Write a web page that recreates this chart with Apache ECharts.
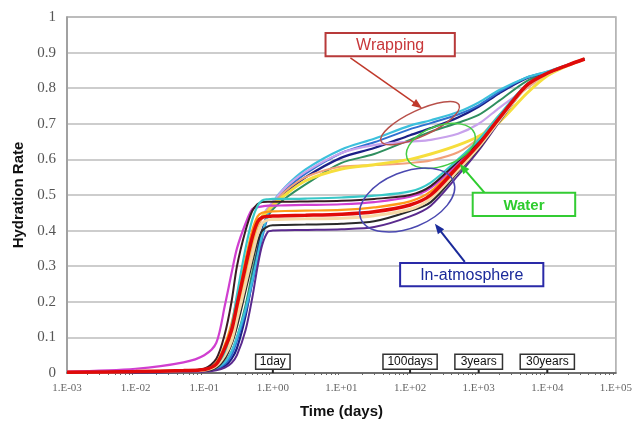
<!DOCTYPE html>
<html><head><meta charset="utf-8">
<script src="https://cdn.jsdelivr.net/npm/echarts@6/dist/echarts.min.js"></script>
<style>html,body{margin:0;padding:0;background:#fff}#c{width:635px;height:424px}</style>
</head><body><div id="c"></div>
<script>
// ---- data (time in days, hydration rate) ----
const days = [0.001, 0.01, 0.05, 0.1, 0.15, 0.2, 0.25, 0.3, 0.4, 0.5, 0.6, 0.7, 0.85, 1, 1.5, 3, 10, 30, 100, 200, 500, 1000, 2000, 5000, 10000, 20000, 35000];

// Wrapping
const wrapGreen = [0.002,0.003,0.005,0.007,0.012,0.03,0.06,0.1,0.19,0.28,0.35,0.40,0.44,0.46,0.49,0.53,0.59,0.615,0.655,0.678,0.703,0.725,0.765,0.82,0.843,0.866,0.882];
const wrapNavy  = [0.001,0.002,0.003,0.005,0.01,0.02,0.04,0.07,0.16,0.26,0.34,0.40,0.45,0.475,0.505,0.55,0.605,0.632,0.668,0.688,0.718,0.748,0.786,0.828,0.845,0.866,0.882];
const wrapBlue  = [0.002,0.003,0.005,0.007,0.012,0.025,0.05,0.09,0.17,0.25,0.32,0.38,0.44,0.47,0.512,0.56,0.618,0.648,0.685,0.702,0.726,0.752,0.79,0.83,0.846,0.866,0.882];
const wrapCyan  = [0.002,0.004,0.006,0.008,0.015,0.03,0.06,0.1,0.18,0.26,0.33,0.39,0.45,0.48,0.522,0.572,0.628,0.658,0.695,0.71,0.733,0.76,0.795,0.83,0.847,0.866,0.882];
// Water
const waterLilac  = [0.002,0.004,0.006,0.009,0.02,0.05,0.1,0.16,0.27,0.35,0.41,0.44,0.465,0.48,0.52,0.565,0.618,0.64,0.65,0.655,0.672,0.70,0.745,0.80,0.84,0.865,0.882];
const waterSalmon = [0.002,0.004,0.006,0.009,0.02,0.05,0.1,0.17,0.28,0.36,0.41,0.435,0.46,0.475,0.51,0.55,0.58,0.584,0.59,0.597,0.62,0.66,0.725,0.80,0.84,0.865,0.882];
const waterYellow = [0.002,0.004,0.006,0.008,0.02,0.06,0.11,0.18,0.29,0.37,0.42,0.44,0.455,0.47,0.5,0.54,0.573,0.585,0.60,0.615,0.64,0.665,0.705,0.785,0.835,0.864,0.882];
// In-atmosphere
const atmPurple  = [0.001,0.002,0.003,0.004,0.008,0.015,0.028,0.05,0.12,0.21,0.3,0.36,0.397,0.4,0.401,0.402,0.404,0.41,0.44,0.47,0.555,0.625,0.705,0.805,0.84,0.865,0.882];
const atmBlack   = [0.002,0.003,0.005,0.006,0.015,0.04,0.08,0.13,0.23,0.31,0.37,0.4,0.412,0.415,0.416,0.417,0.419,0.426,0.455,0.48,0.565,0.63,0.708,0.805,0.84,0.865,0.882];
const atmPeach   = [0.002,0.004,0.006,0.008,0.02,0.05,0.09,0.15,0.25,0.33,0.39,0.42,0.43,0.431,0.432,0.433,0.435,0.442,0.46,0.49,0.57,0.635,0.71,0.805,0.84,0.865,0.882];
const atmOrange  = [0.002,0.004,0.007,0.01,0.03,0.08,0.14,0.21,0.32,0.4,0.44,0.45,0.453,0.454,0.455,0.456,0.458,0.465,0.482,0.51,0.585,0.645,0.718,0.808,0.842,0.865,0.882];
const atmMagenta = [0.004,0.012,0.03,0.05,0.085,0.19,0.28,0.35,0.42,0.46,0.466,0.468,0.47,0.47,0.471,0.472,0.474,0.48,0.495,0.52,0.59,0.648,0.72,0.81,0.842,0.865,0.882];
const atmDark    = [0.002,0.004,0.007,0.012,0.04,0.11,0.2,0.3,0.4,0.455,0.475,0.48,0.481,0.481,0.481,0.482,0.484,0.489,0.5,0.525,0.595,0.65,0.722,0.81,0.842,0.865,0.882];
const atmCyan    = [0.002,0.004,0.007,0.01,0.025,0.06,0.13,0.22,0.35,0.43,0.47,0.485,0.488,0.489,0.489,0.49,0.493,0.498,0.51,0.535,0.60,0.655,0.725,0.81,0.842,0.865,0.882];
const atmRed     = [0.002,0.004,0.007,0.01,0.025,0.07,0.12,0.19,0.3,0.38,0.425,0.437,0.44,0.441,0.442,0.443,0.446,0.453,0.472,0.50,0.58,0.642,0.716,0.808,0.842,0.865,0.882];

const yTicks = [0, 0.1, 0.2, 0.3, 0.4, 0.5, 0.6, 0.7, 0.8, 0.9, 1];
const timeMarks = [['1day', 1], ['100days', 100], ['3years', 1000], ['30years', 10000]];

// ---- styles ----
const curves = [
  ['Wrapping green', wrapGreen, '#2f8f5f', 2],
  ['Wrapping navy', wrapNavy, '#1c1f86', 2.2],
  ['Wrapping blue', wrapBlue, '#2f6fd0', 2],
  ['Wrapping cyan', wrapCyan, '#3cc0dc', 2.2],
  ['Water lilac', waterLilac, '#c8a2ec', 2.2],
  ['Water salmon', waterSalmon, '#f2a07a', 2],
  ['Water yellow', waterYellow, '#f6de3c', 3],
  ['Atm purple', atmPurple, '#5a2a8e', 2],
  ['Atm black', atmBlack, '#2a2a2a', 2],
  ['Atm peach', atmPeach, '#f6d9a6', 3],
  ['Atm orange', atmOrange, '#ff9a1a', 2.2],
  ['Atm magenta', atmMagenta, '#d03fd0', 2.2],
  ['Atm dark', atmDark, '#3a1c22', 2],
  ['Atm cyan', atmCyan, '#38c8c8', 2.2],
  ['Atm red', atmRed, '#e00a0a', 3.5]
];

function fmtExp(v) {
  const e = Math.round(Math.log10(v));
  return '1.E' + (e < 0 ? '-' : '+') + String(Math.abs(e)).padStart(2, '0');
}

const chart = echarts.init(document.getElementById('c'));
chart.setOption({
  animation: false,
  backgroundColor: '#fff',
  grid: { left: 67, right: 15, top: 17, bottom: 51, show: true, borderColor: '#a8a8a8', borderWidth: 1.5 },
  xAxis: {
    type: 'log', logBase: 10, min: 0.001, max: 100000, splitNumber: 8,
    name: 'Time (days)', nameLocation: 'middle', nameGap: 31,
    nameTextStyle: { fontFamily: 'Liberation Sans', fontWeight: 'bold', fontSize: 15, color: '#111' },
    axisLine: { lineStyle: { color: '#555', width: 1.5 } },
    axisTick: { show: false },
    minorTick: { show: true, splitNumber: 9, length: 2, lineStyle: { color: '#666' } },
    splitLine: { show: false },
    axisLabel: { formatter: fmtExp, fontFamily: 'Liberation Serif', fontSize: 11, color: '#666', margin: 10 }
  },
  yAxis: {
    type: 'value', min: yTicks[0], max: yTicks[yTicks.length - 1], interval: 0.1,
    name: 'Hydration Rate', nameLocation: 'middle', nameGap: 36,
    nameTextStyle: { fontFamily: 'Liberation Sans', fontWeight: 'bold', fontSize: 15, color: '#111' },
    axisLine: { show: true, lineStyle: { color: '#999', width: 1.5 } },
    axisTick: { show: false },
    splitLine: { lineStyle: { color: '#bdbdbd', width: 1.5 } },
    axisLabel: { formatter: v => String(Math.round(v * 10) / 10), fontFamily: 'Liberation Serif', fontSize: 15, color: '#555', margin: 11 }
  },
  series: curves.map(([name, vals, color, w]) => ({
    name, type: 'line', showSymbol: false, smooth: 0.3,
    data: days.map((d, i) => [d, vals[i]]),
    lineStyle: { color, width: w }, itemStyle: { color }
  }))
});

// ---- annotations (placed in data space) ----
const P = (t, v) => chart.convertToPixel({ xAxisIndex: 0, yAxisIndex: 0 }, [t, v]);
const g = [];
function arrow(from, to, color, w) {
  const a = P(from[0], from[1]), b = P(to[0], to[1]);
  const ang = Math.atan2(b[1] - a[1], b[0] - a[0]);
  const L = 10, W = 4;
  const c = Math.cos(ang), s = Math.sin(ang);
  g.push({ type: 'line', shape: { x1: a[0], y1: a[1], x2: b[0] - L * 0.6 * c, y2: b[1] - L * 0.6 * s }, style: { stroke: color, lineWidth: w }, z: 100 });
  g.push({ type: 'polygon', shape: { points: [b, [b[0] - L * c + W * s, b[1] - L * s - W * c], [b[0] - L * c - W * s, b[1] - L * s + W * c]] }, style: { fill: color }, z: 100 });
}
function ellipse(center, rx, ry, deg, color) {
  const p = P(center[0], center[1]);
  g.push({ type: 'ellipse', x: p[0], y: p[1], rotation: deg * Math.PI / 180, shape: { cx: 0, cy: 0, rx, ry }, style: { fill: 'none', stroke: color, lineWidth: 1.5 }, z: 100 });
}
function box(tl, br, text, color, border, fontSize, weight, bw) {
  const a = P(tl[0], tl[1]), b = P(br[0], br[1]);
  g.push({ type: 'rect', shape: { x: a[0], y: a[1], width: b[0] - a[0], height: b[1] - a[1] }, style: { fill: '#fff', stroke: border, lineWidth: bw }, z: 101 });
  g.push({ type: 'text', x: (a[0] + b[0]) / 2, y: (a[1] + b[1]) / 2 + 1, style: { text, fill: color, font: weight + ' ' + fontSize + 'px "Liberation Sans", Arial, sans-serif', align: 'center', verticalAlign: 'middle', textAlign: 'center', textVerticalAlign: 'middle' }, z: 102 });
}

// Wrapping
ellipse([140, 0.702], 43, 13, 25, '#b8504a');
arrow([13.5, 0.885], [149, 0.744], '#c0392b', 1.5);
box([5.86, 0.955], [449, 0.890], 'Wrapping', '#c8373a', '#b83a3a', 16, '500', 2);
// Water
ellipse([281, 0.638], 36, 20, 20, '#44cc44');
arrow([1222, 0.506], [531, 0.587], '#2ecc2e', 2);
box([818, 0.506], [25500, 0.441], 'Water', '#2ecc2e', '#33cc33', 15, 'bold', 2);
// In-atmosphere
ellipse([90.6, 0.486], 50, 28, 22, '#4a48b0');
arrow([627, 0.312], [230, 0.419], '#1a2a9a', 2);
box([71.6, 0.309], [8750, 0.244], 'In-atmosphere', '#1a2a9a', '#2a2aa8', 16, '500', 2);

// Time marks above axis
timeMarks.forEach(([label, t]) => {
  const p = P(t, 0), top = P(t, 0.053)[1];
  const w = label.length * 6.6 + 8;
  g.push({ type: 'line', shape: { x1: p[0], y1: p[1], x2: p[0], y2: p[1] - 5 }, style: { stroke: '#222', lineWidth: 2 }, z: 100 });
  g.push({ type: 'rect', shape: { x: p[0] - w / 2, y: top, width: w, height: 15 }, style: { fill: '#fff', stroke: '#333', lineWidth: 1.5 }, z: 101 });
  g.push({ type: 'text', x: p[0], y: top + 8, style: { text: label, fill: '#111', font: '12px "Liberation Sans", Arial, sans-serif', align: 'center', verticalAlign: 'middle', textAlign: 'center', textVerticalAlign: 'middle' }, z: 102 });
});

chart.setOption({ graphic: g });
</script>
</body></html>
